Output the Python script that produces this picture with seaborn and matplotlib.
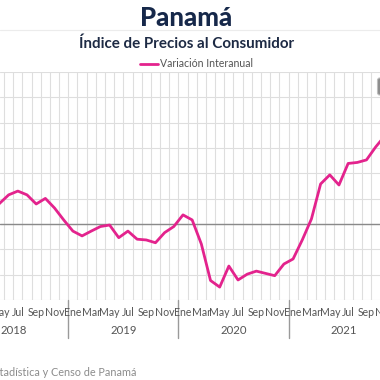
import matplotlib
matplotlib.use("Agg")
import matplotlib.pyplot as plt
import seaborn as sns
import pandas as pd
import numpy as np
from matplotlib.patches import FancyBboxPatch

# ---- data ----
years = ["2018", "2019", "2020", "2021"]
month_names = ["Ene", "Feb", "Mar", "Abr", "May", "Jun",
               "Jul", "Ago", "Sep", "Oct", "Nov", "Dic"]
# Variación interanual (%), Apr 2018 .. Nov 2021
start_index = 3  # Apr 2018 (Jan 2018 = 0)
variacion = [0.45, 0.81, 1.15, 1.30, 1.15, 0.79, 1.01, 0.63, 0.16,
             -0.28, -0.47, -0.28, -0.10, -0.04, -0.54, -0.28, -0.60, -0.63, -0.74, -0.34, -0.10,
             0.36, 0.16, -0.79, -2.23, -2.49, -1.66, -2.21, -1.98, -1.86, -1.95, -2.04, -1.58,
             -1.38, -0.63, 0.20, 1.58, 1.94, 1.54, 2.39, 2.43, 2.53, 3.04, 3.48]
series_name = "Variación Interanual"
title = "Panamá"
subtitle = "Índice de Precios al Consumidor"
source = "Fuente: Instituto Nacional de Estadística y Censo de Panamá"

n_months = 12 * len(years)
df = pd.DataFrame({"idx": np.arange(start_index, start_index + len(variacion)),
                   "valor": variacion})

# ---- style ----
sns.set_style("white")
plt.rcParams["font.family"] = ["Lato", "DejaVu Sans"]

W = H = 380
fig = plt.figure(figsize=(3.8, 3.8), dpi=100)
fig.patch.set_facecolor("white")

px_per_month = 9.175
x_left = 11.5 - 68.3 / px_per_month
x_right = x_left + W / px_per_month

ax = fig.add_axes([0, (H - 300) / H, 1, 228 / H])

line_color = "#e3238d"
grid_color = "#dedede"

sns.lineplot(data=df, x="idx", y="valor", ax=ax, color=line_color, lw=2.0,
             zorder=5, solid_joinstyle="round", solid_capstyle="round", legend=False)

ax.set_xlim(x_left, x_right)
ax.set_ylim(-3, 6)

# grid
ax.set_xticks(np.arange(0, n_months) + 0.5, minor=True)
ax.set_yticks(np.arange(-3, 7, 1))
ax.grid(True, which="minor", axis="x", color=grid_color, lw=0.8)
ax.grid(True, which="major", axis="y", color=grid_color, lw=0.8)
ax.grid(False, which="major", axis="x")
ax.axhline(0, color="#8a8a8a", lw=1.0, zorder=2)

for s in ax.spines.values():
    s.set_visible(False)
ax.set_xlabel("")
ax.set_ylabel("")
ax.set_yticklabels([])
ax.set_xticks([])
ax.tick_params(axis="both", which="both", length=0)
ax.set_xlim(x_left, x_right)

trans = ax.get_xaxis_transform()
# month labels (drawn as text so partly-visible ones at the edges remain)
for i in range(0, n_months, 2):
    if i < x_left - 0.7 or i > x_right + 0.7:
        continue
    ax.text(i, -13 / 228, month_names[i % 12], transform=trans, ha="center",
            va="center", fontsize=7.6, color="#555555", clip_on=False)

# year separators and labels
for k in range(1, len(years)):
    ax.plot([12 * k - 0.5] * 2, [0, -38 / 228], transform=trans, color="#9a9a9a",
            lw=1.0, clip_on=False)
for k, y in enumerate(years):
    ax.text(12 * k + 5.5, -31 / 228, y, transform=trans, ha="center", va="center",
            fontsize=8.2, color="#555555")

# titles
fig.text(186 / W, 1 - 18 / H, title, ha="center", va="center", fontsize=18.5,
         fontweight="black", color="#16284a")
fig.add_artist(plt.Line2D([0, 1], [1 - 29.5 / H] * 2, color="#ececec", lw=0.8))
fig.text(186.5 / W, 1 - 44 / H, subtitle, ha="center", va="center", fontsize=10.9,
         fontweight="bold", color="#1d2a44")

# legend
fig.add_artist(plt.Line2D([140 / W, 158 / W], [1 - 64 / H] * 2, color=line_color, lw=2.0))
fig.text(160 / W, 1 - 63.5 / H, series_name, ha="left", va="center", fontsize=7.6,
         color="#555555")

# source
fig.text(137 / W, 1 - 373 / H, source, ha="right", va="center", fontsize=7.8,
         color="#8c8c8c")

# context button
fig.add_artist(FancyBboxPatch((377.5 / W, 1 - 95 / H), 10 / W, 17 / H,
                              boxstyle="round,pad=0,rounding_size=0.006",
                              transform=fig.transFigure, facecolor="#8c8c8c",
                              edgecolor="#bdbdbd", lw=0.8))

fig.savefig("out.png", dpi=100, facecolor="white")
